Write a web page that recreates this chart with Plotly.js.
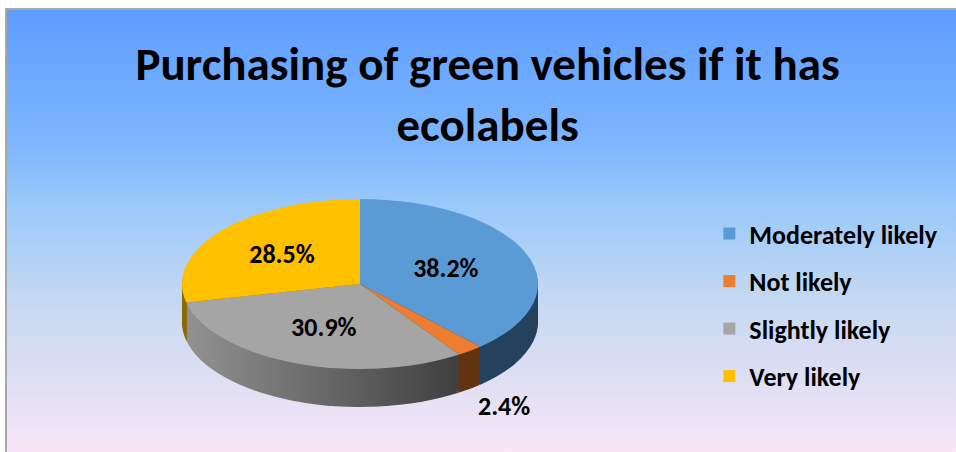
<!DOCTYPE html>
<html><head><meta charset="utf-8">
<script src="https://cdn.plot.ly/plotly-3.0.1.min.js"></script>
<style>
html,body{margin:0;padding:0;background:#fff;}
#wrap{position:relative;width:956px;height:452px;overflow:hidden;}
#bg{position:absolute;left:5px;top:8px;width:951px;height:444px;
 background:linear-gradient(to bottom,#5e9dff 0%,#7db6fd 30%,#9ccafa 45%,#c4d8f1 65%,#e3e0f4 86%,#f8e6f8 100%);
 border-left:2px solid #a8a8a8;border-top:2px solid #a8a8a8;}
#chart{position:absolute;left:0;top:0;width:956px;height:452px;}
</style></head>
<body><div id="wrap"><div id="bg"></div><div id="chart"></div></div>
<script>
const categories = ['Moderately likely', 'Not likely', 'Slightly likely', 'Very likely'];
const percentages = [38.2, 2.4, 30.9, 28.5];
const topColors = ['#5B9BD5', '#ED7D31', '#A5A5A5', '#FFC000'];
const sideColors = ['#25425e', '#613512', '#6a6a6a', '#8c6a00'];
const titleText = 'Purchasing of green vehicles if it has<br>ecolabels';

const W = 956, H = 452;
const CX = 360, RX = 178, RY = 85, CY = 284, DEPTH = 38, STEP = 2;
const OCY = H / 2;
const S = RY / RX;
const FONT = "Calibri, Carlito, 'Liberation Sans Narrow', 'DejaVu Sans Condensed', 'Open Sans', sans-serif";

const dom = {x: [(CX - RX) / W, (CX + RX) / W], y: [(OCY - RX) / H, (OCY + RX) / H]};
const depths = [];
const data = [];
for (let d = DEPTH; d >= STEP; d -= STEP) {
  depths.push(d);
  data.push({type: 'pie', labels: categories, values: percentages, sort: false, direction: 'clockwise',
    rotation: 0, domain: dom, textinfo: 'none', hoverinfo: 'skip', showlegend: false,
    marker: {colors: sideColors, line: {width: 0}}});
}
depths.push(0);
data.push({type: 'pie', labels: categories, values: percentages, sort: false, direction: 'clockwise',
  rotation: 0, domain: dom, texttemplate: '%{value:.1f}%', textposition: ['inside', 'outside', 'inside', 'inside'],
  insidetextorientation: 'horizontal',
  textfont: {family: FONT, size: 26, color: '#000', weight: 'bold'},
  marker: {colors: topColors, line: {width: 0}}, showlegend: true});

const layout = {
  width: W, height: H, margin: {l: 0, r: 0, t: 0, b: 0},
  paper_bgcolor: 'rgba(0,0,0,0)', plot_bgcolor: 'rgba(0,0,0,0)',
  title: {text: titleText, x: 0.51, xanchor: 'center', y: 0.823, yanchor: 'top',
    font: {family: FONT, size: 47, color: '#000', weight: 'bold'}},
  legend: {x: 0.742, xanchor: 'left', y: 0.535, yanchor: 'top', bgcolor: 'rgba(0,0,0,0)',
    font: {family: FONT, size: 26, color: '#000', weight: 'bold'}, traceorder: 'normal'},
  showlegend: true
};

const gd = document.getElementById('chart');
Plotly.newPlot(gd, data, layout, {displayModeBar: false, staticPlot: true, responsive: false}).then(() => {
  const svgNS = 'http://www.w3.org/2000/svg';
  const mainSvg = gd.querySelector('svg.main-svg');
  let defs = mainSvg.querySelector('defs');
  if (!defs) { defs = document.createElementNS(svgNS, 'defs'); mainSvg.insertBefore(defs, mainSvg.firstChild); }
  const lg = document.createElementNS(svgNS, 'linearGradient');
  lg.setAttribute('id', 'grayWall');
  lg.setAttribute('gradientUnits', 'userSpaceOnUse');
  lg.setAttribute('x1', CX - RX); lg.setAttribute('x2', CX + RX * 0.65);
  lg.setAttribute('y1', 0); lg.setAttribute('y2', 0);
  [['0', '#939393'], ['1', '#3a3a3a']].forEach(([o, c]) => {
    const st = document.createElementNS(svgNS, 'stop');
    st.setAttribute('offset', o); st.setAttribute('stop-color', c); lg.appendChild(st);
  });
  defs.appendChild(lg);

  const traces = gd.querySelectorAll('.pielayer > g.trace');
  const last = traces.length - 1;
  traces.forEach((g, i) => {
    if (i === last) return;
    const sl = g.querySelectorAll('g.slice');
    if (sl[2]) { const p = sl[2].querySelector('path.surface'); if (p) p.style.fill = 'url(#grayWall)'; }
  });
  const topSlices = traces[last].querySelectorAll('g.slice');
  topSlices.forEach((sl, i) => {
    const st = sl.querySelector('g.slicetext');
    if (!st) return;
    const t = st.querySelector('text');
    if (!t) return;
    const bb = st.getBBox();
    const bx = bb.x + bb.width / 2, by = bb.y + bb.height / 2;
    const orig = t.getAttribute('transform') || '';
    const dy = (i === 1) ? (DEPTH + 12) / S : 0;
    t.setAttribute('transform', `translate(0,${dy}) translate(${bx},${by}) scale(1,${1 / S}) translate(${-bx},${-by}) ${orig}`);
  });
  gd.querySelectorAll('.pielayer path.textline').forEach(p => p.style.display = 'none');
  traces.forEach((g, i) => {
    g.setAttribute('transform', `translate(0,${CY + depths[i]}) scale(1,${S}) translate(0,${-OCY})`);
  });
  gd.querySelectorAll('.legend [clip-path]').forEach(e => e.removeAttribute('clip-path'));
  const items = gd.querySelectorAll('.legend g.traces');
  const GAP = 47.5;
  let y0 = null;
  items.forEach((it, i) => {
    const tr = it.getAttribute('transform') || 'translate(0,0)';
    const m = tr.match(/translate\(\s*([-\d.e]+)[\s,]+([-\d.e]+)\s*\)/);
    const x = m ? parseFloat(m[1]) : 0, y = m ? parseFloat(m[2]) : 0;
    if (y0 === null) y0 = y;
    it.setAttribute('transform', `translate(${x},${y0 + i * GAP})`);
  });
});
</script>
</body></html>
